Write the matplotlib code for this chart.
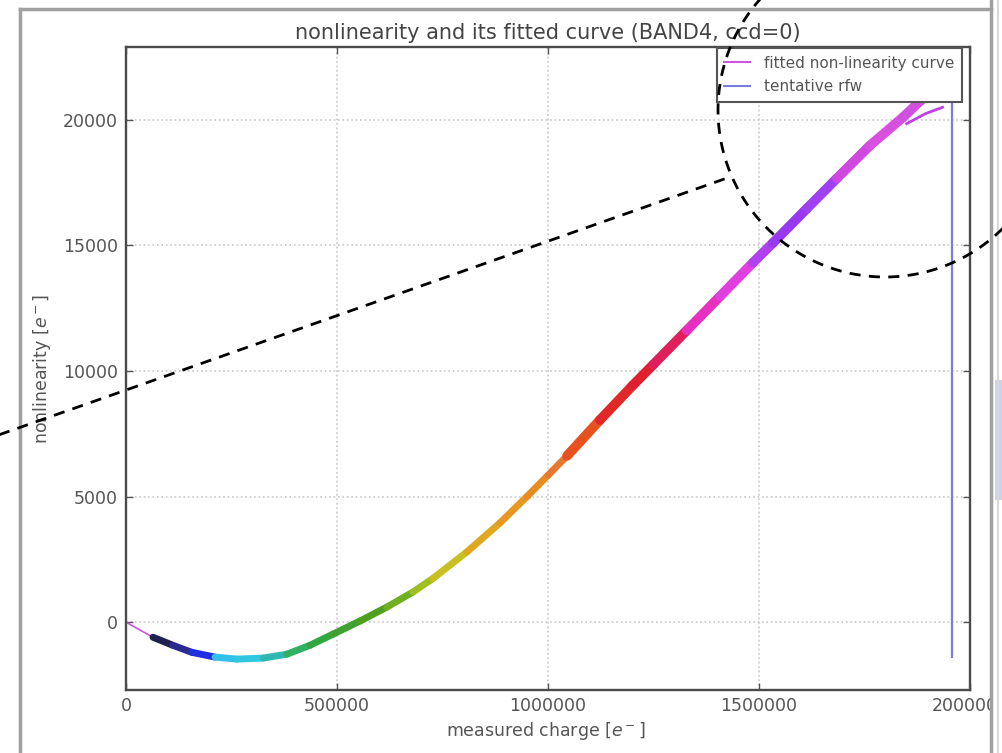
import numpy as np
import matplotlib
matplotlib.use("Agg")
import matplotlib.pyplot as plt
from matplotlib.collections import LineCollection
from matplotlib.lines import Line2D
from matplotlib.patches import Rectangle

# ---------------- data ----------------
charge = [0, 64000, 111000, 156000, 211000, 263000, 325000, 381000, 436000,
          490000, 555000, 618000, 680000, 728000, 808000, 886000, 950000,
          1000000, 1045000, 1123000, 1201000, 1249000, 1329000, 1408000,
          1486000, 1533000, 1614000, 1685000, 1763000, 1841000, 1882000, 1935000]
nonlin = [0, -600, -920, -1200, -1390, -1470, -1430, -1275, -920,
          -480, 50, 600, 1200, 1750, 2800, 3950, 5000,
          5850, 6620, 8050, 9430, 10250, 11620, 12980,
          14320, 15100, 16480, 17680, 18980, 20100, 20750, 21500]
point_colors = ['#c070d0', '#2a2a80', '#202050', '#2a2a90', '#2030e0', '#30c0e8',
                '#30c8e0', '#30b8b0', '#30b060', '#30a840', '#40a030', '#50a020',
                '#70b020', '#a0c020', '#c8c020', '#e0a820', '#e89820',
                '#e88c20', '#e87830', '#e85020', '#e02828', '#e02030', '#e0205a',
                '#e830c0', '#e040e0', '#b040f0', '#9838f0', '#a040f0', '#d048e0',
                '#d850e0', '#d050e0', '#d050e0']

# extra strand near the top right
strand_charge = [1850000, 1895000, 1935000]
strand_nonlin = [19850, 20250, 20500]

rfw_charge = 1957000
rfw_ymin = -1430
rfw_ymax = 23500

xticks = [0, 500000, 1000000, 1500000, 2000000]
yticks = [0, 5000, 10000, 15000, 20000]

title = "nonlinearity and its fitted curve (BAND4, ccd=0)"
xlabel = "measured charge [$e^-$]"
ylabel = "nonlinearity [$e^-$]"
legend_labels = ["fitted non-linearity curve", "tentative rfw"]

# ---------------- figure ----------------
W, H = 1002, 753
fig = plt.figure(figsize=(W / 100, H / 100), dpi=100)
fig.patch.set_facecolor("white")

L, R, T, B = 126, 970, 47, 690
ax = fig.add_axes([L / W, 1 - B / H, (R - L) / W, (B - T) / H])

ax.set_xlim(0, 2000000)
ax.set_ylim(-2700, 22900)

ax.grid(True, color='#c8c8c8', linestyle=':', linewidth=1.2, zorder=0)
ax.set_xticks(xticks)
ax.set_yticks(yticks)
ax.set_xticklabels([str(v) for v in xticks])
ax.set_yticklabels([str(v) for v in yticks])
ax.tick_params(direction='in', length=5, width=1, top=True, right=True,
               colors='#555555', labelsize=12.5)
ax.tick_params(axis='x', pad=5)
ax.tick_params(axis='y', pad=6)
for s in ax.spines.values():
    s.set_color('#4a4a4a')
    s.set_linewidth(1.7)

# fitted curve (thin)
fit_color = '#cc55dd'
ax.plot(charge, nonlin, color=fit_color, lw=1.2, zorder=2)

# measured points as a thick coloured band
pts = np.column_stack([charge, nonlin])
segs = np.stack([pts[1:-1], pts[2:]], axis=1)
widths = np.where(np.array(charge[2:]) > 1100000, 7.0, 5.0)
lc = LineCollection(segs, colors=point_colors[2:], linewidths=widths,
                    capstyle='round', joinstyle='round', zorder=3)
ax.add_collection(lc)
ax.plot(strand_charge, strand_nonlin, color='#c040e8', lw=2.0, zorder=3)

# tentative rfw
rfw_color = '#7b7be0'
ax.vlines(rfw_charge, rfw_ymin, rfw_ymax, color=rfw_color, lw=1.6, zorder=4)

ax.set_title(title, fontsize=15, color='#444444', pad=6)
ax.set_xlabel(xlabel, fontsize=12.5, color='#555555')
ax.set_ylabel(ylabel, fontsize=12.5, color='#555555')
ax.xaxis.set_label_coords((546 - L) / (R - L), (B - 731) / (B - T))
ax.xaxis.label.set_va('center')
ax.yaxis.set_label_coords((42 - L) / (R - L), 0.5)
ax.yaxis.label.set_va('center')

handles = [Line2D([], [], color=fit_color, lw=1.5),
           Line2D([], [], color=rfw_color, lw=1.5)]
leg = ax.legend(handles, legend_labels, loc='upper right',
                bbox_to_anchor=(1 - 8 / (R - L), 1 - 1 / (B - T)),
                borderaxespad=0, fontsize=11, fancybox=False,
                framealpha=1, edgecolor='#555555', handlelength=1.7,
                borderpad=0.5, labelspacing=0.55, handletextpad=0.9)
leg.get_frame().set_linewidth(1.5)
for t in leg.get_texts():
    t.set_color('#555555')

# ---------------- screenshot window frame & overlay ----------------
def fx(px):
    return np.asarray(px) / W

def fy(py):
    return 1 - np.asarray(py) / H

fig.add_artist(Rectangle((fx(992), 0), 1 - fx(992), 1, transform=fig.transFigure,
                         facecolor='white', edgecolor='none', zorder=10))
fig.add_artist(Rectangle((fx(995), fy(500)), fx(7), fy(380) - fy(500),
                         transform=fig.transFigure, facecolor='#c8d4ec',
                         edgecolor='none', zorder=11))
frame_col = '#a0a0a0'
fig.add_artist(Line2D([fx(20), fx(991)], [fy(9), fy(9)], transform=fig.transFigure,
                      color=frame_col, lw=2.5, zorder=12))
fig.add_artist(Line2D([fx(20), fx(20)], [fy(9), 0], transform=fig.transFigure,
                      color=frame_col, lw=2.5, zorder=12))
fig.add_artist(Line2D([fx(991), fx(991)], [1, 0], transform=fig.transFigure,
                      color=frame_col, lw=2.5, zorder=12))
fig.add_artist(Line2D([fx(998), fx(998)], [1, 0], transform=fig.transFigure,
                      color='#d8d8d8', lw=1.5, zorder=12))

# dashed annotation overlay
dash = (0, (4, 3))
fig.add_artist(Line2D([fx(-10), fx(730)], [fy(438), fy(177)], transform=fig.transFigure,
                      color='black', lw=2.0, linestyle=dash, zorder=13))
cx, cy, r = 885, 110, 167
theta = np.linspace(0, 2 * np.pi, 400)
fig.add_artist(Line2D(fx(cx + r * np.cos(theta)), fy(cy + r * np.sin(theta)),
                      transform=fig.transFigure, color='black', lw=2.0,
                      linestyle=dash, zorder=13))

fig.savefig("out.png", dpi=100)
